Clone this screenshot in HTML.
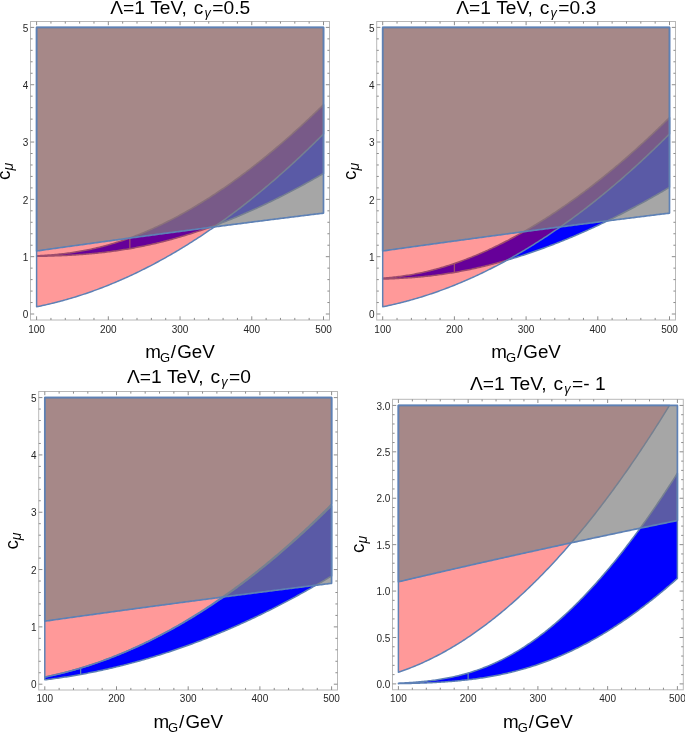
<!DOCTYPE html>
<html><head><meta charset="utf-8"><style>
html,body{margin:0;padding:0;background:#fff;}
svg{display:block;will-change:transform;}
text{font-family:"Liberation Sans",sans-serif;}
.tl text{font-size:10px;fill:#262626;}
.ti{font-size:19.2px;fill:#000;}
.ax{font-size:18.8px;fill:#000;}
.sg{font-size:12.6px;font-style:italic;}
.sG{font-size:13px;}
.sm{font-size:14px;font-style:italic;}
</style></head><body>
<svg width="685" height="732" viewBox="0 0 685 732">
<g><path d="M36.6,256.36 L38.03,256.33 L39.47,256.3 L40.9,256.27 L42.34,256.24 L43.77,256.21 L45.21,256.17 L46.64,256.13 L48.08,256.09 L49.51,256.05 L50.95,256.01 L52.38,255.97 L53.81,255.92 L55.25,255.87 L56.68,255.82 L58.12,255.76 L59.55,255.7 L60.99,255.65 L62.42,255.58 L63.86,255.52 L65.29,255.45 L66.72,255.38 L68.16,255.31 L69.59,255.23 L71.03,255.15 L72.46,255.07 L73.9,254.99 L75.33,254.9 L76.77,254.81 L78.2,254.71 L79.63,254.61 L81.07,254.51 L82.5,254.41 L83.94,254.3 L85.37,254.19 L86.81,254.07 L88.24,253.95 L89.68,253.83 L91.11,253.7 L92.55,253.57 L93.98,253.43 L95.41,253.29 L96.85,253.15 L98.28,253 L99.72,252.85 L101.15,252.7 L102.59,252.54 L104.02,252.38 L105.46,252.21 L106.89,252.03 L108.32,251.86 L109.76,251.68 L111.19,251.49 L112.63,251.3 L114.06,251.11 L115.5,250.91 L116.93,250.7 L118.37,250.49 L119.8,250.28 L121.24,250.06 L122.67,249.84 L124.1,249.61 L125.54,249.38 L126.97,249.15 L128.41,248.91 L129.84,248.66 L131.28,248.41 L132.71,248.15 L134.15,247.89 L135.58,247.63 L137.01,247.36 L138.45,247.08 L139.88,246.8 L141.32,246.52 L142.75,246.23 L144.19,245.93 L145.62,245.63 L147.06,245.33 L148.49,245.02 L149.93,244.7 L151.36,244.39 L152.79,244.06 L154.23,243.73 L155.66,243.4 L157.1,243.06 L158.53,242.72 L159.97,242.37 L161.4,242.02 L162.84,241.66 L164.27,241.29 L165.7,240.93 L167.14,240.55 L168.57,240.18 L170.01,239.79 L171.44,239.41 L172.88,239.01 L174.31,238.62 L175.75,238.22 L177.18,237.81 L178.62,237.4 L180.05,236.98 L181.48,236.56 L182.92,236.14 L184.35,235.71 L185.79,235.27 L187.22,234.83 L188.66,234.39 L190.09,233.94 L191.53,233.49 L192.96,233.03 L194.39,232.56 L195.83,232.1 L197.26,231.63 L198.7,231.15 L200.13,230.67 L201.57,230.18 L203,229.69 L204.44,229.2 L205.87,228.7 L207.31,228.19 L208.74,227.68 L210.17,227.17 L211.61,226.65 L213.04,226.13 L214.48,225.61 L215.91,225.08 L217.35,224.54 L218.78,224 L220.22,223.46 L221.65,222.91 L223.08,222.36 L224.52,221.8 L225.95,221.24 L227.39,220.67 L228.82,220.1 L230.26,219.53 L231.69,218.95 L233.13,218.36 L234.56,217.78 L236,217.19 L237.43,216.59 L238.86,215.99 L240.3,215.39 L241.73,214.78 L243.17,214.16 L244.6,213.55 L246.04,212.93 L247.47,212.3 L248.91,211.67 L250.34,211.04 L251.77,210.4 L253.21,209.76 L254.64,209.11 L256.08,208.46 L257.51,207.81 L258.95,207.15 L260.38,206.49 L261.82,205.82 L263.25,205.15 L264.69,204.48 L266.12,203.8 L267.55,203.11 L268.99,202.43 L270.42,201.74 L271.86,201.04 L273.29,200.34 L274.73,199.64 L276.16,198.93 L277.6,198.22 L279.03,197.51 L280.46,196.79 L281.9,196.07 L283.33,195.34 L284.77,194.61 L286.2,193.88 L287.64,193.14 L289.07,192.4 L290.51,191.65 L291.94,190.9 L293.38,190.14 L294.81,189.39 L296.24,188.62 L297.68,187.86 L299.11,187.09 L300.55,186.32 L301.98,185.54 L303.42,184.76 L304.85,183.97 L306.29,183.18 L307.72,182.39 L309.15,181.59 L310.59,180.79 L312.02,179.99 L313.46,179.18 L314.89,178.37 L316.33,177.55 L317.76,176.73 L319.2,175.91 L320.63,175.08 L322.07,174.25 L323.5,173.42 L323.5,104.64 L322.07,106.05 L320.63,107.45 L319.2,108.85 L317.76,110.23 L316.33,111.62 L314.89,112.99 L313.46,114.36 L312.02,115.73 L310.59,117.09 L309.15,118.44 L307.72,119.79 L306.29,121.13 L304.85,122.46 L303.42,123.79 L301.98,125.11 L300.55,126.43 L299.11,127.74 L297.68,129.05 L296.24,130.35 L294.81,131.64 L293.38,132.93 L291.94,134.21 L290.51,135.48 L289.07,136.75 L287.64,138.01 L286.2,139.27 L284.77,140.52 L283.33,141.77 L281.9,143.01 L280.46,144.24 L279.03,145.47 L277.6,146.69 L276.16,147.9 L274.73,149.11 L273.29,150.31 L271.86,151.51 L270.42,152.7 L268.99,153.88 L267.55,155.06 L266.12,156.23 L264.69,157.4 L263.25,158.56 L261.82,159.71 L260.38,160.86 L258.95,162 L257.51,163.14 L256.08,164.27 L254.64,165.39 L253.21,166.51 L251.77,167.62 L250.34,168.72 L248.91,169.82 L247.47,170.91 L246.04,172 L244.6,173.08 L243.17,174.15 L241.73,175.22 L240.3,176.28 L238.86,177.33 L237.43,178.38 L236,179.42 L234.56,180.46 L233.13,181.49 L231.69,182.51 L230.26,183.53 L228.82,184.54 L227.39,185.54 L225.95,186.54 L224.52,187.53 L223.08,188.51 L221.65,189.49 L220.22,190.46 L218.78,191.43 L217.35,192.39 L215.91,193.34 L214.48,194.29 L213.04,195.23 L211.61,196.16 L210.17,197.09 L208.74,198.01 L207.31,198.92 L205.87,199.83 L204.44,200.73 L203,201.62 L201.57,202.51 L200.13,203.39 L198.7,204.26 L197.26,205.13 L195.83,205.99 L194.39,206.84 L192.96,207.69 L191.53,208.53 L190.09,209.37 L188.66,210.19 L187.22,211.01 L185.79,211.83 L184.35,212.63 L182.92,213.43 L181.48,214.22 L180.05,215.01 L178.62,215.79 L177.18,216.56 L175.75,217.32 L174.31,218.08 L172.88,218.83 L171.44,219.57 L170.01,220.31 L168.57,221.04 L167.14,221.76 L165.7,222.48 L164.27,223.19 L162.84,223.89 L161.4,224.58 L159.97,225.27 L158.53,225.94 L157.1,226.62 L155.66,227.28 L154.23,227.94 L152.79,228.59 L151.36,229.23 L149.93,229.86 L148.49,230.49 L147.06,231.11 L145.62,231.72 L144.19,232.32 L142.75,232.92 L141.32,233.51 L139.88,234.09 L138.45,234.66 L137.01,235.23 L135.58,235.79 L134.15,236.34 L132.71,236.88 L131.28,237.42 L129.84,237.94 L128.41,238.46 L126.97,238.97 L125.54,239.48 L124.1,239.97 L122.67,240.46 L121.24,240.94 L119.8,241.41 L118.37,241.87 L116.93,242.33 L115.5,242.77 L114.06,243.21 L112.63,243.64 L111.19,244.07 L109.76,244.48 L108.32,244.89 L106.89,245.29 L105.46,245.68 L104.02,246.06 L102.59,246.44 L101.15,246.8 L99.72,247.16 L98.28,247.51 L96.85,247.85 L95.41,248.19 L93.98,248.52 L92.55,248.83 L91.11,249.15 L89.68,249.45 L88.24,249.74 L86.81,250.03 L85.37,250.31 L83.94,250.58 L82.5,250.85 L81.07,251.1 L79.63,251.35 L78.2,251.59 L76.77,251.83 L75.33,252.06 L73.9,252.28 L72.46,252.49 L71.03,252.69 L69.59,252.89 L68.16,253.09 L66.72,253.27 L65.29,253.45 L63.86,253.62 L62.42,253.79 L60.99,253.95 L59.55,254.1 L58.12,254.25 L56.68,254.39 L55.25,254.52 L53.81,254.65 L52.38,254.78 L50.95,254.89 L49.51,255.01 L48.08,255.11 L46.64,255.22 L45.21,255.31 L43.77,255.41 L42.34,255.5 L40.9,255.58 L39.47,255.66 L38.03,255.73 L36.6,255.8 Z" fill="#0000ff" stroke="#5e81b5" stroke-width="1.5" stroke-linejoin="round"/>
<path d="M129.84,248.66V237.94" stroke="#5e81b5" stroke-width="1.3"/>
<path d="M36.6,306.8 L38.03,306.51 L39.47,306.21 L40.9,305.91 L42.34,305.6 L43.77,305.28 L45.21,304.96 L46.64,304.64 L48.08,304.31 L49.51,303.97 L50.95,303.63 L52.38,303.28 L53.81,302.92 L55.25,302.56 L56.68,302.2 L58.12,301.83 L59.55,301.45 L60.99,301.07 L62.42,300.68 L63.86,300.28 L65.29,299.88 L66.72,299.48 L68.16,299.06 L69.59,298.65 L71.03,298.22 L72.46,297.79 L73.9,297.36 L75.33,296.92 L76.77,296.47 L78.2,296.02 L79.63,295.56 L81.07,295.1 L82.5,294.63 L83.94,294.15 L85.37,293.67 L86.81,293.18 L88.24,292.69 L89.68,292.19 L91.11,291.69 L92.55,291.18 L93.98,290.66 L95.41,290.14 L96.85,289.61 L98.28,289.08 L99.72,288.54 L101.15,288 L102.59,287.45 L104.02,286.89 L105.46,286.33 L106.89,285.76 L108.32,285.19 L109.76,284.61 L111.19,284.02 L112.63,283.43 L114.06,282.84 L115.5,282.23 L116.93,281.63 L118.37,281.01 L119.8,280.39 L121.24,279.77 L122.67,279.14 L124.1,278.5 L125.54,277.86 L126.97,277.21 L128.41,276.56 L129.84,275.9 L131.28,275.23 L132.71,274.56 L134.15,273.88 L135.58,273.2 L137.01,272.51 L138.45,271.82 L139.88,271.12 L141.32,270.41 L142.75,269.7 L144.19,268.98 L145.62,268.26 L147.06,267.53 L148.49,266.79 L149.93,266.05 L151.36,265.31 L152.79,264.56 L154.23,263.8 L155.66,263.03 L157.1,262.26 L158.53,261.49 L159.97,260.71 L161.4,259.92 L162.84,259.13 L164.27,258.33 L165.7,257.53 L167.14,256.72 L168.57,255.9 L170.01,255.08 L171.44,254.26 L172.88,253.42 L174.31,252.58 L175.75,251.74 L177.18,250.89 L178.62,250.03 L180.05,249.17 L181.48,248.31 L182.92,247.43 L184.35,246.55 L185.79,245.67 L187.22,244.78 L188.66,243.88 L190.09,242.98 L191.53,242.07 L192.96,241.16 L194.39,240.24 L195.83,239.32 L197.26,238.39 L198.7,237.45 L200.13,236.51 L201.57,235.56 L203,234.61 L204.44,233.65 L205.87,232.68 L207.31,231.71 L208.74,230.73 L210.17,229.75 L211.61,228.76 L213.04,227.77 L214.48,226.77 L215.91,225.76 L217.35,224.75 L218.78,223.73 L220.22,222.71 L221.65,221.68 L223.08,220.65 L224.52,219.61 L225.95,218.56 L227.39,217.51 L228.82,216.45 L230.26,215.39 L231.69,214.32 L233.13,213.25 L234.56,212.17 L236,211.08 L237.43,209.99 L238.86,208.89 L240.3,207.79 L241.73,206.68 L243.17,205.56 L244.6,204.44 L246.04,203.32 L247.47,202.18 L248.91,201.04 L250.34,199.9 L251.77,198.75 L253.21,197.6 L254.64,196.43 L256.08,195.27 L257.51,194.1 L258.95,192.92 L260.38,191.73 L261.82,190.54 L263.25,189.35 L264.69,188.15 L266.12,186.94 L267.55,185.73 L268.99,184.51 L270.42,183.28 L271.86,182.05 L273.29,180.82 L274.73,179.57 L276.16,178.33 L277.6,177.07 L279.03,175.81 L280.46,174.55 L281.9,173.28 L283.33,172 L284.77,170.72 L286.2,169.43 L287.64,168.14 L289.07,166.84 L290.51,165.53 L291.94,164.22 L293.38,162.91 L294.81,161.58 L296.24,160.26 L297.68,158.92 L299.11,157.58 L300.55,156.24 L301.98,154.88 L303.42,153.53 L304.85,152.16 L306.29,150.8 L307.72,149.42 L309.15,148.04 L310.59,146.66 L312.02,145.26 L313.46,143.87 L314.89,142.46 L316.33,141.05 L317.76,139.64 L319.2,138.22 L320.63,136.79 L322.07,135.36 L323.5,133.92 L323.5,27.4 L36.6,27.4 Z" fill="rgba(255,0,0,0.4)" stroke="#5e81b5" stroke-width="1.5" stroke-linejoin="round"/>
<path d="M36.6,250.95 L38.03,250.75 L39.47,250.54 L40.9,250.34 L42.34,250.14 L43.77,249.94 L45.21,249.74 L46.64,249.53 L48.08,249.33 L49.51,249.13 L50.95,248.93 L52.38,248.73 L53.81,248.53 L55.25,248.33 L56.68,248.13 L58.12,247.93 L59.55,247.73 L60.99,247.53 L62.42,247.33 L63.86,247.13 L65.29,246.93 L66.72,246.73 L68.16,246.53 L69.59,246.33 L71.03,246.13 L72.46,245.93 L73.9,245.73 L75.33,245.53 L76.77,245.33 L78.2,245.13 L79.63,244.93 L81.07,244.74 L82.5,244.54 L83.94,244.34 L85.37,244.14 L86.81,243.94 L88.24,243.75 L89.68,243.55 L91.11,243.35 L92.55,243.15 L93.98,242.96 L95.41,242.76 L96.85,242.56 L98.28,242.37 L99.72,242.17 L101.15,241.97 L102.59,241.78 L104.02,241.58 L105.46,241.38 L106.89,241.19 L108.32,240.99 L109.76,240.8 L111.19,240.6 L112.63,240.4 L114.06,240.21 L115.5,240.01 L116.93,239.82 L118.37,239.62 L119.8,239.43 L121.24,239.23 L122.67,239.04 L124.1,238.85 L125.54,238.65 L126.97,238.46 L128.41,238.26 L129.84,238.07 L131.28,237.88 L132.71,237.68 L134.15,237.49 L135.58,237.3 L137.01,237.1 L138.45,236.91 L139.88,236.72 L141.32,236.52 L142.75,236.33 L144.19,236.14 L145.62,235.95 L147.06,235.75 L148.49,235.56 L149.93,235.37 L151.36,235.18 L152.79,234.99 L154.23,234.79 L155.66,234.6 L157.1,234.41 L158.53,234.22 L159.97,234.03 L161.4,233.84 L162.84,233.65 L164.27,233.46 L165.7,233.27 L167.14,233.08 L168.57,232.88 L170.01,232.69 L171.44,232.5 L172.88,232.31 L174.31,232.13 L175.75,231.94 L177.18,231.75 L178.62,231.56 L180.05,231.37 L181.48,231.18 L182.92,230.99 L184.35,230.8 L185.79,230.61 L187.22,230.42 L188.66,230.23 L190.09,230.05 L191.53,229.86 L192.96,229.67 L194.39,229.48 L195.83,229.29 L197.26,229.11 L198.7,228.92 L200.13,228.73 L201.57,228.55 L203,228.36 L204.44,228.17 L205.87,227.98 L207.31,227.8 L208.74,227.61 L210.17,227.42 L211.61,227.24 L213.04,227.05 L214.48,226.87 L215.91,226.68 L217.35,226.49 L218.78,226.31 L220.22,226.12 L221.65,225.94 L223.08,225.75 L224.52,225.57 L225.95,225.38 L227.39,225.2 L228.82,225.01 L230.26,224.83 L231.69,224.64 L233.13,224.46 L234.56,224.28 L236,224.09 L237.43,223.91 L238.86,223.72 L240.3,223.54 L241.73,223.36 L243.17,223.17 L244.6,222.99 L246.04,222.81 L247.47,222.62 L248.91,222.44 L250.34,222.26 L251.77,222.08 L253.21,221.89 L254.64,221.71 L256.08,221.53 L257.51,221.35 L258.95,221.17 L260.38,220.98 L261.82,220.8 L263.25,220.62 L264.69,220.44 L266.12,220.26 L267.55,220.08 L268.99,219.9 L270.42,219.71 L271.86,219.53 L273.29,219.35 L274.73,219.17 L276.16,218.99 L277.6,218.81 L279.03,218.63 L280.46,218.45 L281.9,218.27 L283.33,218.09 L284.77,217.91 L286.2,217.73 L287.64,217.55 L289.07,217.38 L290.51,217.2 L291.94,217.02 L293.38,216.84 L294.81,216.66 L296.24,216.48 L297.68,216.3 L299.11,216.13 L300.55,215.95 L301.98,215.77 L303.42,215.59 L304.85,215.41 L306.29,215.24 L307.72,215.06 L309.15,214.88 L310.59,214.7 L312.02,214.53 L313.46,214.35 L314.89,214.17 L316.33,214 L317.76,213.82 L319.2,213.64 L320.63,213.47 L322.07,213.29 L323.5,213.12 L323.5,27.4 L36.6,27.4 Z" fill="rgba(128,128,128,0.7)" stroke="#5e81b5" stroke-width="1.7" stroke-linejoin="round"/></g>
<g><path d="M382.7,279.07 L384.13,279.03 L385.57,278.98 L387,278.93 L388.44,278.88 L389.87,278.83 L391.3,278.77 L392.74,278.71 L394.17,278.65 L395.61,278.58 L397.04,278.51 L398.47,278.44 L399.91,278.37 L401.34,278.29 L402.78,278.2 L404.21,278.12 L405.64,278.03 L407.08,277.93 L408.51,277.84 L409.95,277.74 L411.38,277.63 L412.81,277.52 L414.25,277.41 L415.68,277.29 L417.12,277.17 L418.55,277.04 L419.98,276.91 L421.42,276.78 L422.85,276.64 L424.29,276.5 L425.72,276.35 L427.15,276.2 L428.59,276.04 L430.02,275.88 L431.46,275.71 L432.89,275.54 L434.32,275.37 L435.76,275.19 L437.19,275 L438.63,274.81 L440.06,274.62 L441.49,274.42 L442.93,274.21 L444.36,274 L445.8,273.79 L447.23,273.57 L448.66,273.35 L450.1,273.12 L451.53,272.89 L452.97,272.65 L454.4,272.4 L455.83,272.16 L457.27,271.9 L458.7,271.65 L460.14,271.38 L461.57,271.11 L463,270.84 L464.44,270.56 L465.87,270.28 L467.31,270 L468.74,269.7 L470.17,269.41 L471.61,269.11 L473.04,268.8 L474.48,268.49 L475.91,268.17 L477.34,267.85 L478.78,267.53 L480.21,267.2 L481.65,266.86 L483.08,266.52 L484.51,266.18 L485.95,265.83 L487.38,265.47 L488.82,265.12 L490.25,264.75 L491.68,264.39 L493.12,264.01 L494.55,263.64 L495.99,263.26 L497.42,262.87 L498.85,262.48 L500.29,262.08 L501.72,261.69 L503.16,261.28 L504.59,260.87 L506.02,260.46 L507.46,260.04 L508.89,259.62 L510.33,259.2 L511.76,258.77 L513.19,258.33 L514.63,257.89 L516.06,257.45 L517.5,257 L518.93,256.55 L520.36,256.09 L521.8,255.63 L523.23,255.17 L524.67,254.7 L526.1,254.23 L527.53,253.75 L528.97,253.27 L530.4,252.78 L531.84,252.29 L533.27,251.8 L534.7,251.3 L536.14,250.8 L537.57,250.29 L539.01,249.78 L540.44,249.27 L541.87,248.75 L543.31,248.23 L544.74,247.7 L546.18,247.17 L547.61,246.64 L549.04,246.1 L550.48,245.56 L551.91,245.01 L553.35,244.46 L554.78,243.9 L556.21,243.34 L557.65,242.78 L559.08,242.22 L560.52,241.65 L561.95,241.07 L563.38,240.49 L564.82,239.91 L566.25,239.32 L567.69,238.73 L569.12,238.14 L570.55,237.54 L571.99,236.94 L573.42,236.34 L574.86,235.73 L576.29,235.11 L577.72,234.5 L579.16,233.88 L580.59,233.25 L582.03,232.62 L583.46,231.99 L584.89,231.35 L586.33,230.71 L587.76,230.07 L589.2,229.42 L590.63,228.77 L592.06,228.12 L593.5,227.46 L594.93,226.79 L596.37,226.13 L597.8,225.46 L599.23,224.78 L600.67,224.11 L602.1,223.43 L603.54,222.74 L604.97,222.05 L606.4,221.36 L607.84,220.66 L609.27,219.96 L610.71,219.26 L612.14,218.55 L613.57,217.84 L615.01,217.13 L616.44,216.41 L617.88,215.68 L619.31,214.96 L620.74,214.23 L622.18,213.5 L623.61,212.76 L625.05,212.02 L626.48,211.27 L627.91,210.53 L629.35,209.77 L630.78,209.02 L632.22,208.26 L633.65,207.5 L635.08,206.73 L636.52,205.96 L637.95,205.19 L639.39,204.41 L640.82,203.63 L642.25,202.85 L643.69,202.06 L645.12,201.27 L646.56,200.47 L647.99,199.67 L649.42,198.87 L650.86,198.06 L652.29,197.25 L653.73,196.44 L655.16,195.62 L656.59,194.8 L658.03,193.98 L659.46,193.15 L660.9,192.32 L662.33,191.48 L663.76,190.64 L665.2,189.8 L666.63,188.96 L668.07,188.11 L669.5,187.25 L669.5,117.57 L668.07,118.99 L666.63,120.4 L665.2,121.8 L663.76,123.21 L662.33,124.6 L660.9,125.99 L659.46,127.37 L658.03,128.75 L656.59,130.12 L655.16,131.49 L653.73,132.85 L652.29,134.2 L650.86,135.55 L649.42,136.89 L647.99,138.23 L646.56,139.56 L645.12,140.88 L643.69,142.2 L642.25,143.52 L640.82,144.82 L639.39,146.12 L637.95,147.42 L636.52,148.71 L635.08,150 L633.65,151.27 L632.22,152.55 L630.78,153.81 L629.35,155.07 L627.91,156.33 L626.48,157.58 L625.05,158.82 L623.61,160.06 L622.18,161.29 L620.74,162.52 L619.31,163.74 L617.88,164.95 L616.44,166.16 L615.01,167.36 L613.57,168.56 L612.14,169.75 L610.71,170.93 L609.27,172.11 L607.84,173.29 L606.4,174.45 L604.97,175.62 L603.54,176.77 L602.1,177.92 L600.67,179.06 L599.23,180.2 L597.8,181.33 L596.37,182.46 L594.93,183.58 L593.5,184.7 L592.06,185.8 L590.63,186.91 L589.2,188 L587.76,189.09 L586.33,190.18 L584.89,191.26 L583.46,192.33 L582.03,193.4 L580.59,194.46 L579.16,195.51 L577.72,196.56 L576.29,197.61 L574.86,198.64 L573.42,199.67 L571.99,200.7 L570.55,201.72 L569.12,202.73 L567.69,203.74 L566.25,204.74 L564.82,205.74 L563.38,206.73 L561.95,207.71 L560.52,208.69 L559.08,209.66 L557.65,210.62 L556.21,211.58 L554.78,212.53 L553.35,213.48 L551.91,214.42 L550.48,215.36 L549.04,216.29 L547.61,217.21 L546.18,218.13 L544.74,219.04 L543.31,219.94 L541.87,220.84 L540.44,221.73 L539.01,222.62 L537.57,223.5 L536.14,224.37 L534.7,225.24 L533.27,226.1 L531.84,226.96 L530.4,227.81 L528.97,228.65 L527.53,229.48 L526.1,230.31 L524.67,231.14 L523.23,231.96 L521.8,232.77 L520.36,233.57 L518.93,234.37 L517.5,235.17 L516.06,235.95 L514.63,236.73 L513.19,237.5 L511.76,238.27 L510.33,239.03 L508.89,239.79 L507.46,240.54 L506.02,241.28 L504.59,242.01 L503.16,242.74 L501.72,243.46 L500.29,244.18 L498.85,244.89 L497.42,245.59 L495.99,246.28 L494.55,246.97 L493.12,247.66 L491.68,248.33 L490.25,249 L488.82,249.66 L487.38,250.32 L485.95,250.97 L484.51,251.61 L483.08,252.25 L481.65,252.88 L480.21,253.5 L478.78,254.11 L477.34,254.72 L475.91,255.32 L474.48,255.91 L473.04,256.5 L471.61,257.08 L470.17,257.65 L468.74,258.22 L467.31,258.78 L465.87,259.33 L464.44,259.87 L463,260.41 L461.57,260.94 L460.14,261.46 L458.7,261.98 L457.27,262.49 L455.83,262.99 L454.4,263.48 L452.97,263.96 L451.53,264.44 L450.1,264.91 L448.66,265.38 L447.23,265.83 L445.8,266.28 L444.36,266.72 L442.93,267.15 L441.49,267.57 L440.06,267.99 L438.63,268.4 L437.19,268.8 L435.76,269.19 L434.32,269.57 L432.89,269.95 L431.46,270.32 L430.02,270.68 L428.59,271.03 L427.15,271.38 L425.72,271.71 L424.29,272.04 L422.85,272.36 L421.42,272.68 L419.98,272.98 L418.55,273.28 L417.12,273.57 L415.68,273.85 L414.25,274.12 L412.81,274.38 L411.38,274.64 L409.95,274.89 L408.51,275.13 L407.08,275.36 L405.64,275.58 L404.21,275.8 L402.78,276.01 L401.34,276.21 L399.91,276.41 L398.47,276.59 L397.04,276.77 L395.61,276.94 L394.17,277.11 L392.74,277.27 L391.3,277.42 L389.87,277.56 L388.44,277.7 L387,277.83 L385.57,277.96 L384.13,278.07 L382.7,278.19 Z" fill="#0000ff" stroke="#5e81b5" stroke-width="1.5" stroke-linejoin="round"/>
<path d="M454.4,272.4V263.48" stroke="#5e81b5" stroke-width="1.3"/>
<path d="M382.7,306.8 L384.13,306.51 L385.57,306.21 L387,305.91 L388.44,305.6 L389.87,305.28 L391.3,304.96 L392.74,304.64 L394.17,304.31 L395.61,303.97 L397.04,303.63 L398.47,303.28 L399.91,302.92 L401.34,302.56 L402.78,302.2 L404.21,301.83 L405.64,301.45 L407.08,301.07 L408.51,300.68 L409.95,300.28 L411.38,299.88 L412.81,299.48 L414.25,299.06 L415.68,298.65 L417.12,298.22 L418.55,297.79 L419.98,297.36 L421.42,296.92 L422.85,296.47 L424.29,296.02 L425.72,295.56 L427.15,295.1 L428.59,294.63 L430.02,294.15 L431.46,293.67 L432.89,293.18 L434.32,292.69 L435.76,292.19 L437.19,291.69 L438.63,291.18 L440.06,290.66 L441.49,290.14 L442.93,289.61 L444.36,289.08 L445.8,288.54 L447.23,288 L448.66,287.45 L450.1,286.89 L451.53,286.33 L452.97,285.76 L454.4,285.19 L455.83,284.61 L457.27,284.02 L458.7,283.43 L460.14,282.84 L461.57,282.23 L463,281.63 L464.44,281.01 L465.87,280.39 L467.31,279.77 L468.74,279.14 L470.17,278.5 L471.61,277.86 L473.04,277.21 L474.48,276.56 L475.91,275.9 L477.34,275.23 L478.78,274.56 L480.21,273.88 L481.65,273.2 L483.08,272.51 L484.51,271.82 L485.95,271.12 L487.38,270.41 L488.82,269.7 L490.25,268.98 L491.68,268.26 L493.12,267.53 L494.55,266.79 L495.99,266.05 L497.42,265.31 L498.85,264.56 L500.29,263.8 L501.72,263.03 L503.16,262.26 L504.59,261.49 L506.02,260.71 L507.46,259.92 L508.89,259.13 L510.33,258.33 L511.76,257.53 L513.19,256.72 L514.63,255.9 L516.06,255.08 L517.5,254.26 L518.93,253.42 L520.36,252.58 L521.8,251.74 L523.23,250.89 L524.67,250.03 L526.1,249.17 L527.53,248.31 L528.97,247.43 L530.4,246.55 L531.84,245.67 L533.27,244.78 L534.7,243.88 L536.14,242.98 L537.57,242.07 L539.01,241.16 L540.44,240.24 L541.87,239.32 L543.31,238.39 L544.74,237.45 L546.18,236.51 L547.61,235.56 L549.04,234.61 L550.48,233.65 L551.91,232.68 L553.35,231.71 L554.78,230.73 L556.21,229.75 L557.65,228.76 L559.08,227.77 L560.52,226.77 L561.95,225.76 L563.38,224.75 L564.82,223.73 L566.25,222.71 L567.69,221.68 L569.12,220.65 L570.55,219.61 L571.99,218.56 L573.42,217.51 L574.86,216.45 L576.29,215.39 L577.72,214.32 L579.16,213.25 L580.59,212.17 L582.03,211.08 L583.46,209.99 L584.89,208.89 L586.33,207.79 L587.76,206.68 L589.2,205.56 L590.63,204.44 L592.06,203.32 L593.5,202.18 L594.93,201.04 L596.37,199.9 L597.8,198.75 L599.23,197.6 L600.67,196.43 L602.1,195.27 L603.54,194.1 L604.97,192.92 L606.4,191.73 L607.84,190.54 L609.27,189.35 L610.71,188.15 L612.14,186.94 L613.57,185.73 L615.01,184.51 L616.44,183.28 L617.88,182.05 L619.31,180.82 L620.74,179.57 L622.18,178.33 L623.61,177.07 L625.05,175.81 L626.48,174.55 L627.91,173.28 L629.35,172 L630.78,170.72 L632.22,169.43 L633.65,168.14 L635.08,166.84 L636.52,165.53 L637.95,164.22 L639.39,162.91 L640.82,161.58 L642.25,160.26 L643.69,158.92 L645.12,157.58 L646.56,156.24 L647.99,154.88 L649.42,153.53 L650.86,152.16 L652.29,150.8 L653.73,149.42 L655.16,148.04 L656.59,146.66 L658.03,145.26 L659.46,143.87 L660.9,142.46 L662.33,141.05 L663.76,139.64 L665.2,138.22 L666.63,136.79 L668.07,135.36 L669.5,133.92 L669.5,27.4 L382.7,27.4 Z" fill="rgba(255,0,0,0.4)" stroke="#5e81b5" stroke-width="1.5" stroke-linejoin="round"/>
<path d="M382.7,250.95 L384.13,250.75 L385.57,250.54 L387,250.34 L388.44,250.14 L389.87,249.94 L391.3,249.74 L392.74,249.53 L394.17,249.33 L395.61,249.13 L397.04,248.93 L398.47,248.73 L399.91,248.53 L401.34,248.33 L402.78,248.13 L404.21,247.93 L405.64,247.73 L407.08,247.53 L408.51,247.33 L409.95,247.13 L411.38,246.93 L412.81,246.73 L414.25,246.53 L415.68,246.33 L417.12,246.13 L418.55,245.93 L419.98,245.73 L421.42,245.53 L422.85,245.33 L424.29,245.13 L425.72,244.93 L427.15,244.74 L428.59,244.54 L430.02,244.34 L431.46,244.14 L432.89,243.94 L434.32,243.75 L435.76,243.55 L437.19,243.35 L438.63,243.15 L440.06,242.96 L441.49,242.76 L442.93,242.56 L444.36,242.37 L445.8,242.17 L447.23,241.97 L448.66,241.78 L450.1,241.58 L451.53,241.38 L452.97,241.19 L454.4,240.99 L455.83,240.8 L457.27,240.6 L458.7,240.4 L460.14,240.21 L461.57,240.01 L463,239.82 L464.44,239.62 L465.87,239.43 L467.31,239.23 L468.74,239.04 L470.17,238.85 L471.61,238.65 L473.04,238.46 L474.48,238.26 L475.91,238.07 L477.34,237.88 L478.78,237.68 L480.21,237.49 L481.65,237.3 L483.08,237.1 L484.51,236.91 L485.95,236.72 L487.38,236.52 L488.82,236.33 L490.25,236.14 L491.68,235.95 L493.12,235.75 L494.55,235.56 L495.99,235.37 L497.42,235.18 L498.85,234.99 L500.29,234.79 L501.72,234.6 L503.16,234.41 L504.59,234.22 L506.02,234.03 L507.46,233.84 L508.89,233.65 L510.33,233.46 L511.76,233.27 L513.19,233.08 L514.63,232.88 L516.06,232.69 L517.5,232.5 L518.93,232.31 L520.36,232.13 L521.8,231.94 L523.23,231.75 L524.67,231.56 L526.1,231.37 L527.53,231.18 L528.97,230.99 L530.4,230.8 L531.84,230.61 L533.27,230.42 L534.7,230.23 L536.14,230.05 L537.57,229.86 L539.01,229.67 L540.44,229.48 L541.87,229.29 L543.31,229.11 L544.74,228.92 L546.18,228.73 L547.61,228.55 L549.04,228.36 L550.48,228.17 L551.91,227.98 L553.35,227.8 L554.78,227.61 L556.21,227.42 L557.65,227.24 L559.08,227.05 L560.52,226.87 L561.95,226.68 L563.38,226.49 L564.82,226.31 L566.25,226.12 L567.69,225.94 L569.12,225.75 L570.55,225.57 L571.99,225.38 L573.42,225.2 L574.86,225.01 L576.29,224.83 L577.72,224.64 L579.16,224.46 L580.59,224.28 L582.03,224.09 L583.46,223.91 L584.89,223.72 L586.33,223.54 L587.76,223.36 L589.2,223.17 L590.63,222.99 L592.06,222.81 L593.5,222.62 L594.93,222.44 L596.37,222.26 L597.8,222.08 L599.23,221.89 L600.67,221.71 L602.1,221.53 L603.54,221.35 L604.97,221.17 L606.4,220.98 L607.84,220.8 L609.27,220.62 L610.71,220.44 L612.14,220.26 L613.57,220.08 L615.01,219.9 L616.44,219.71 L617.88,219.53 L619.31,219.35 L620.74,219.17 L622.18,218.99 L623.61,218.81 L625.05,218.63 L626.48,218.45 L627.91,218.27 L629.35,218.09 L630.78,217.91 L632.22,217.73 L633.65,217.55 L635.08,217.38 L636.52,217.2 L637.95,217.02 L639.39,216.84 L640.82,216.66 L642.25,216.48 L643.69,216.3 L645.12,216.13 L646.56,215.95 L647.99,215.77 L649.42,215.59 L650.86,215.41 L652.29,215.24 L653.73,215.06 L655.16,214.88 L656.59,214.7 L658.03,214.53 L659.46,214.35 L660.9,214.17 L662.33,214 L663.76,213.82 L665.2,213.64 L666.63,213.47 L668.07,213.29 L669.5,213.12 L669.5,27.4 L382.7,27.4 Z" fill="rgba(128,128,128,0.7)" stroke="#5e81b5" stroke-width="1.7" stroke-linejoin="round"/></g>
<g><path d="M44.8,679.87 L46.23,679.7 L47.67,679.52 L49.1,679.34 L50.54,679.15 L51.97,678.96 L53.4,678.77 L54.84,678.58 L56.27,678.38 L57.71,678.17 L59.14,677.97 L60.57,677.76 L62.01,677.55 L63.44,677.33 L64.88,677.11 L66.31,676.89 L67.74,676.66 L69.18,676.43 L70.61,676.2 L72.05,675.96 L73.48,675.72 L74.91,675.47 L76.35,675.23 L77.78,674.98 L79.22,674.72 L80.65,674.46 L82.08,674.2 L83.52,673.94 L84.95,673.67 L86.39,673.4 L87.82,673.12 L89.25,672.84 L90.69,672.56 L92.12,672.27 L93.56,671.99 L94.99,671.69 L96.42,671.4 L97.86,671.1 L99.29,670.79 L100.73,670.49 L102.16,670.18 L103.59,669.87 L105.03,669.55 L106.46,669.23 L107.9,668.9 L109.33,668.58 L110.76,668.25 L112.2,667.91 L113.63,667.57 L115.07,667.23 L116.5,666.89 L117.93,666.54 L119.37,666.19 L120.8,665.84 L122.24,665.48 L123.67,665.12 L125.1,664.75 L126.54,664.38 L127.97,664.01 L129.41,663.63 L130.84,663.25 L132.27,662.87 L133.71,662.49 L135.14,662.1 L136.58,661.7 L138.01,661.31 L139.44,660.91 L140.88,660.5 L142.31,660.1 L143.75,659.69 L145.18,659.27 L146.61,658.86 L148.05,658.43 L149.48,658.01 L150.92,657.58 L152.35,657.15 L153.78,656.72 L155.22,656.28 L156.65,655.84 L158.09,655.39 L159.52,654.95 L160.95,654.49 L162.39,654.04 L163.82,653.58 L165.26,653.12 L166.69,652.65 L168.12,652.18 L169.56,651.71 L170.99,651.23 L172.43,650.75 L173.86,650.27 L175.29,649.78 L176.73,649.29 L178.16,648.8 L179.6,648.3 L181.03,647.8 L182.46,647.3 L183.9,646.79 L185.33,646.28 L186.77,645.77 L188.2,645.25 L189.63,644.73 L191.07,644.21 L192.5,643.68 L193.94,643.15 L195.37,642.61 L196.8,642.07 L198.24,641.53 L199.67,640.99 L201.11,640.44 L202.54,639.88 L203.97,639.33 L205.41,638.77 L206.84,638.21 L208.28,637.64 L209.71,637.07 L211.14,636.5 L212.58,635.92 L214.01,635.34 L215.45,634.76 L216.88,634.17 L218.31,633.58 L219.75,632.99 L221.18,632.39 L222.62,631.79 L224.05,631.19 L225.48,630.58 L226.92,629.97 L228.35,629.35 L229.79,628.73 L231.22,628.11 L232.65,627.49 L234.09,626.86 L235.52,626.23 L236.96,625.59 L238.39,624.95 L239.82,624.31 L241.26,623.67 L242.69,623.02 L244.13,622.36 L245.56,621.71 L246.99,621.05 L248.43,620.39 L249.86,619.72 L251.3,619.05 L252.73,618.38 L254.16,617.7 L255.6,617.02 L257.03,616.34 L258.47,615.65 L259.9,614.96 L261.33,614.26 L262.77,613.57 L264.2,612.86 L265.64,612.16 L267.07,611.45 L268.5,610.74 L269.94,610.03 L271.37,609.31 L272.81,608.59 L274.24,607.86 L275.67,607.13 L277.11,606.4 L278.54,605.66 L279.98,604.92 L281.41,604.18 L282.84,603.44 L284.28,602.69 L285.71,601.93 L287.15,601.18 L288.58,600.42 L290.01,599.65 L291.45,598.89 L292.88,598.12 L294.32,597.34 L295.75,596.56 L297.18,595.78 L298.62,595 L300.05,594.21 L301.49,593.42 L302.92,592.63 L304.35,591.83 L305.79,591.03 L307.22,590.22 L308.66,589.41 L310.09,588.6 L311.52,587.79 L312.96,586.97 L314.39,586.15 L315.83,585.32 L317.26,584.49 L318.69,583.66 L320.13,582.82 L321.56,581.98 L323,581.14 L324.43,580.29 L325.86,579.44 L327.3,578.59 L328.73,577.73 L330.17,576.87 L331.6,576.01 L331.6,505.79 L330.17,507.22 L328.73,508.63 L327.3,510.05 L325.86,511.45 L324.43,512.86 L323,514.25 L321.56,515.64 L320.13,517.03 L318.69,518.41 L317.26,519.78 L315.83,521.15 L314.39,522.51 L312.96,523.86 L311.52,525.21 L310.09,526.56 L308.66,527.9 L307.22,529.23 L305.79,530.56 L304.35,531.88 L302.92,533.2 L301.49,534.51 L300.05,535.81 L298.62,537.11 L297.18,538.4 L295.75,539.69 L294.32,540.97 L292.88,542.25 L291.45,543.52 L290.01,544.78 L288.58,546.04 L287.15,547.29 L285.71,548.54 L284.28,549.78 L282.84,551.02 L281.41,552.25 L279.98,553.47 L278.54,554.69 L277.11,555.91 L275.67,557.11 L274.24,558.31 L272.81,559.51 L271.37,560.7 L269.94,561.89 L268.5,563.06 L267.07,564.24 L265.64,565.41 L264.2,566.57 L262.77,567.72 L261.33,568.87 L259.9,570.02 L258.47,571.16 L257.03,572.29 L255.6,573.42 L254.16,574.54 L252.73,575.66 L251.3,576.77 L249.86,577.87 L248.43,578.97 L246.99,580.06 L245.56,581.15 L244.13,582.23 L242.69,583.31 L241.26,584.38 L239.82,585.44 L238.39,586.5 L236.96,587.56 L235.52,588.6 L234.09,589.65 L232.65,590.68 L231.22,591.71 L229.79,592.74 L228.35,593.76 L226.92,594.77 L225.48,595.78 L224.05,596.78 L222.62,597.78 L221.18,598.77 L219.75,599.75 L218.31,600.73 L216.88,601.7 L215.45,602.67 L214.01,603.63 L212.58,604.59 L211.14,605.54 L209.71,606.49 L208.28,607.42 L206.84,608.36 L205.41,609.29 L203.97,610.21 L202.54,611.12 L201.11,612.03 L199.67,612.94 L198.24,613.84 L196.8,614.73 L195.37,615.62 L193.94,616.5 L192.5,617.38 L191.07,618.25 L189.63,619.11 L188.2,619.97 L186.77,620.83 L185.33,621.67 L183.9,622.52 L182.46,623.35 L181.03,624.18 L179.6,625.01 L178.16,625.83 L176.73,626.64 L175.29,627.45 L173.86,628.25 L172.43,629.05 L170.99,629.84 L169.56,630.62 L168.12,631.4 L166.69,632.18 L165.26,632.94 L163.82,633.71 L162.39,634.46 L160.95,635.21 L159.52,635.96 L158.09,636.7 L156.65,637.43 L155.22,638.16 L153.78,638.88 L152.35,639.6 L150.92,640.31 L149.48,641.01 L148.05,641.71 L146.61,642.41 L145.18,643.09 L143.75,643.78 L142.31,644.45 L140.88,645.12 L139.44,645.79 L138.01,646.45 L136.58,647.1 L135.14,647.75 L133.71,648.39 L132.27,649.03 L130.84,649.66 L129.41,650.29 L127.97,650.9 L126.54,651.52 L125.1,652.13 L123.67,652.73 L122.24,653.33 L120.8,653.92 L119.37,654.5 L117.93,655.08 L116.5,655.65 L115.07,656.22 L113.63,656.79 L112.2,657.34 L110.76,657.89 L109.33,658.44 L107.9,658.98 L106.46,659.51 L105.03,660.04 L103.59,660.56 L102.16,661.08 L100.73,661.59 L99.29,662.09 L97.86,662.59 L96.42,663.09 L94.99,663.58 L93.56,664.06 L92.12,664.54 L90.69,665.01 L89.25,665.47 L87.82,665.93 L86.39,666.38 L84.95,666.83 L83.52,667.28 L82.08,667.71 L80.65,668.14 L79.22,668.57 L77.78,668.99 L76.35,669.4 L74.91,669.81 L73.48,670.21 L72.05,670.61 L70.61,671 L69.18,671.39 L67.74,671.77 L66.31,672.14 L64.88,672.51 L63.44,672.87 L62.01,673.23 L60.57,673.58 L59.14,673.92 L57.71,674.26 L56.27,674.6 L54.84,674.93 L53.4,675.25 L51.97,675.57 L50.54,675.88 L49.1,676.18 L47.67,676.48 L46.23,676.78 L44.8,677.06 Z" fill="#0000ff" stroke="#5e81b5" stroke-width="1.5" stroke-linejoin="round"/>
<path d="M80.65,674.46V668.14" stroke="#5e81b5" stroke-width="1.3"/>
<path d="M44.8,677 L46.23,676.71 L47.67,676.41 L49.1,676.11 L50.54,675.8 L51.97,675.48 L53.4,675.16 L54.84,674.84 L56.27,674.51 L57.71,674.17 L59.14,673.83 L60.57,673.48 L62.01,673.12 L63.44,672.76 L64.88,672.4 L66.31,672.03 L67.74,671.65 L69.18,671.27 L70.61,670.88 L72.05,670.48 L73.48,670.08 L74.91,669.68 L76.35,669.26 L77.78,668.85 L79.22,668.42 L80.65,667.99 L82.08,667.56 L83.52,667.12 L84.95,666.67 L86.39,666.22 L87.82,665.76 L89.25,665.3 L90.69,664.83 L92.12,664.35 L93.56,663.87 L94.99,663.38 L96.42,662.89 L97.86,662.39 L99.29,661.89 L100.73,661.38 L102.16,660.86 L103.59,660.34 L105.03,659.81 L106.46,659.28 L107.9,658.74 L109.33,658.2 L110.76,657.65 L112.2,657.09 L113.63,656.53 L115.07,655.96 L116.5,655.39 L117.93,654.81 L119.37,654.22 L120.8,653.63 L122.24,653.04 L123.67,652.43 L125.1,651.83 L126.54,651.21 L127.97,650.59 L129.41,649.97 L130.84,649.34 L132.27,648.7 L133.71,648.06 L135.14,647.41 L136.58,646.76 L138.01,646.1 L139.44,645.43 L140.88,644.76 L142.31,644.08 L143.75,643.4 L145.18,642.71 L146.61,642.02 L148.05,641.32 L149.48,640.61 L150.92,639.9 L152.35,639.18 L153.78,638.46 L155.22,637.73 L156.65,636.99 L158.09,636.25 L159.52,635.51 L160.95,634.76 L162.39,634 L163.82,633.23 L165.26,632.46 L166.69,631.69 L168.12,630.91 L169.56,630.12 L170.99,629.33 L172.43,628.53 L173.86,627.73 L175.29,626.92 L176.73,626.1 L178.16,625.28 L179.6,624.46 L181.03,623.62 L182.46,622.78 L183.9,621.94 L185.33,621.09 L186.77,620.23 L188.2,619.37 L189.63,618.51 L191.07,617.63 L192.5,616.75 L193.94,615.87 L195.37,614.98 L196.8,614.08 L198.24,613.18 L199.67,612.27 L201.11,611.36 L202.54,610.44 L203.97,609.52 L205.41,608.59 L206.84,607.65 L208.28,606.71 L209.71,605.76 L211.14,604.81 L212.58,603.85 L214.01,602.88 L215.45,601.91 L216.88,600.93 L218.31,599.95 L219.75,598.96 L221.18,597.97 L222.62,596.97 L224.05,595.96 L225.48,594.95 L226.92,593.93 L228.35,592.91 L229.79,591.88 L231.22,590.85 L232.65,589.81 L234.09,588.76 L235.52,587.71 L236.96,586.65 L238.39,585.59 L239.82,584.52 L241.26,583.45 L242.69,582.37 L244.13,581.28 L245.56,580.19 L246.99,579.09 L248.43,577.99 L249.86,576.88 L251.3,575.76 L252.73,574.64 L254.16,573.52 L255.6,572.38 L257.03,571.24 L258.47,570.1 L259.9,568.95 L261.33,567.8 L262.77,566.63 L264.2,565.47 L265.64,564.3 L267.07,563.12 L268.5,561.93 L269.94,560.74 L271.37,559.55 L272.81,558.35 L274.24,557.14 L275.67,555.93 L277.11,554.71 L278.54,553.48 L279.98,552.25 L281.41,551.02 L282.84,549.77 L284.28,548.53 L285.71,547.27 L287.15,546.01 L288.58,544.75 L290.01,543.48 L291.45,542.2 L292.88,540.92 L294.32,539.63 L295.75,538.34 L297.18,537.04 L298.62,535.73 L300.05,534.42 L301.49,533.11 L302.92,531.78 L304.35,530.46 L305.79,529.12 L307.22,527.78 L308.66,526.44 L310.09,525.08 L311.52,523.73 L312.96,522.36 L314.39,521 L315.83,519.62 L317.26,518.24 L318.69,516.86 L320.13,515.46 L321.56,514.07 L323,512.66 L324.43,511.25 L325.86,509.84 L327.3,508.42 L328.73,506.99 L330.17,505.56 L331.6,504.12 L331.6,397.6 L44.8,397.6 Z" fill="rgba(255,0,0,0.4)" stroke="#5e81b5" stroke-width="1.5" stroke-linejoin="round"/>
<path d="M44.8,621.15 L46.23,620.95 L47.67,620.74 L49.1,620.54 L50.54,620.34 L51.97,620.14 L53.4,619.94 L54.84,619.73 L56.27,619.53 L57.71,619.33 L59.14,619.13 L60.57,618.93 L62.01,618.73 L63.44,618.53 L64.88,618.33 L66.31,618.13 L67.74,617.93 L69.18,617.73 L70.61,617.53 L72.05,617.33 L73.48,617.13 L74.91,616.93 L76.35,616.73 L77.78,616.53 L79.22,616.33 L80.65,616.13 L82.08,615.93 L83.52,615.73 L84.95,615.53 L86.39,615.33 L87.82,615.13 L89.25,614.94 L90.69,614.74 L92.12,614.54 L93.56,614.34 L94.99,614.14 L96.42,613.95 L97.86,613.75 L99.29,613.55 L100.73,613.35 L102.16,613.16 L103.59,612.96 L105.03,612.76 L106.46,612.57 L107.9,612.37 L109.33,612.17 L110.76,611.98 L112.2,611.78 L113.63,611.58 L115.07,611.39 L116.5,611.19 L117.93,611 L119.37,610.8 L120.8,610.6 L122.24,610.41 L123.67,610.21 L125.1,610.02 L126.54,609.82 L127.97,609.63 L129.41,609.43 L130.84,609.24 L132.27,609.05 L133.71,608.85 L135.14,608.66 L136.58,608.46 L138.01,608.27 L139.44,608.08 L140.88,607.88 L142.31,607.69 L143.75,607.5 L145.18,607.3 L146.61,607.11 L148.05,606.92 L149.48,606.72 L150.92,606.53 L152.35,606.34 L153.78,606.15 L155.22,605.95 L156.65,605.76 L158.09,605.57 L159.52,605.38 L160.95,605.19 L162.39,604.99 L163.82,604.8 L165.26,604.61 L166.69,604.42 L168.12,604.23 L169.56,604.04 L170.99,603.85 L172.43,603.66 L173.86,603.47 L175.29,603.28 L176.73,603.08 L178.16,602.89 L179.6,602.7 L181.03,602.51 L182.46,602.33 L183.9,602.14 L185.33,601.95 L186.77,601.76 L188.2,601.57 L189.63,601.38 L191.07,601.19 L192.5,601 L193.94,600.81 L195.37,600.62 L196.8,600.43 L198.24,600.25 L199.67,600.06 L201.11,599.87 L202.54,599.68 L203.97,599.49 L205.41,599.31 L206.84,599.12 L208.28,598.93 L209.71,598.75 L211.14,598.56 L212.58,598.37 L214.01,598.18 L215.45,598 L216.88,597.81 L218.31,597.62 L219.75,597.44 L221.18,597.25 L222.62,597.07 L224.05,596.88 L225.48,596.69 L226.92,596.51 L228.35,596.32 L229.79,596.14 L231.22,595.95 L232.65,595.77 L234.09,595.58 L235.52,595.4 L236.96,595.21 L238.39,595.03 L239.82,594.84 L241.26,594.66 L242.69,594.48 L244.13,594.29 L245.56,594.11 L246.99,593.92 L248.43,593.74 L249.86,593.56 L251.3,593.37 L252.73,593.19 L254.16,593.01 L255.6,592.82 L257.03,592.64 L258.47,592.46 L259.9,592.28 L261.33,592.09 L262.77,591.91 L264.2,591.73 L265.64,591.55 L267.07,591.37 L268.5,591.18 L269.94,591 L271.37,590.82 L272.81,590.64 L274.24,590.46 L275.67,590.28 L277.11,590.1 L278.54,589.91 L279.98,589.73 L281.41,589.55 L282.84,589.37 L284.28,589.19 L285.71,589.01 L287.15,588.83 L288.58,588.65 L290.01,588.47 L291.45,588.29 L292.88,588.11 L294.32,587.93 L295.75,587.75 L297.18,587.58 L298.62,587.4 L300.05,587.22 L301.49,587.04 L302.92,586.86 L304.35,586.68 L305.79,586.5 L307.22,586.33 L308.66,586.15 L310.09,585.97 L311.52,585.79 L312.96,585.61 L314.39,585.44 L315.83,585.26 L317.26,585.08 L318.69,584.9 L320.13,584.73 L321.56,584.55 L323,584.37 L324.43,584.2 L325.86,584.02 L327.3,583.84 L328.73,583.67 L330.17,583.49 L331.6,583.32 L331.6,397.6 L44.8,397.6 Z" fill="rgba(128,128,128,0.7)" stroke="#5e81b5" stroke-width="1.7" stroke-linejoin="round"/></g>
<g><path d="M398.4,683.64 L399.79,683.61 L401.19,683.59 L402.58,683.57 L403.98,683.54 L405.38,683.51 L406.77,683.48 L408.16,683.45 L409.56,683.42 L410.95,683.39 L412.35,683.35 L413.75,683.32 L415.14,683.28 L416.53,683.24 L417.93,683.19 L419.32,683.15 L420.72,683.1 L422.11,683.05 L423.51,683 L424.9,682.95 L426.3,682.89 L427.69,682.83 L429.09,682.77 L430.48,682.71 L431.88,682.64 L433.27,682.57 L434.67,682.5 L436.06,682.42 L437.46,682.35 L438.85,682.27 L440.25,682.18 L441.64,682.1 L443.04,682.01 L444.44,681.91 L445.83,681.82 L447.22,681.72 L448.62,681.61 L450.01,681.51 L451.41,681.4 L452.8,681.28 L454.2,681.16 L455.59,681.04 L456.99,680.92 L458.38,680.79 L459.78,680.65 L461.17,680.51 L462.57,680.37 L463.96,680.23 L465.36,680.07 L466.75,679.92 L468.15,679.76 L469.54,679.59 L470.94,679.43 L472.33,679.25 L473.73,679.07 L475.12,678.89 L476.52,678.7 L477.91,678.51 L479.31,678.31 L480.7,678.11 L482.1,677.9 L483.5,677.68 L484.89,677.46 L486.28,677.24 L487.68,677.01 L489.07,676.77 L490.47,676.53 L491.87,676.28 L493.26,676.03 L494.65,675.77 L496.05,675.5 L497.44,675.23 L498.84,674.95 L500.24,674.67 L501.63,674.38 L503.02,674.08 L504.42,673.78 L505.81,673.47 L507.21,673.16 L508.6,672.84 L510,672.51 L511.39,672.17 L512.79,671.83 L514.18,671.48 L515.58,671.13 L516.98,670.77 L518.37,670.4 L519.76,670.02 L521.16,669.64 L522.55,669.25 L523.95,668.86 L525.35,668.45 L526.74,668.04 L528.13,667.62 L529.53,667.2 L530.92,666.77 L532.32,666.33 L533.71,665.88 L535.11,665.43 L536.5,664.97 L537.9,664.5 L539.29,664.02 L540.69,663.54 L542.09,663.05 L543.48,662.55 L544.88,662.04 L546.27,661.53 L547.66,661 L549.06,660.47 L550.45,659.94 L551.85,659.39 L553.25,658.84 L554.64,658.28 L556.03,657.71 L557.43,657.14 L558.83,656.55 L560.22,655.96 L561.62,655.36 L563.01,654.75 L564.4,654.14 L565.8,653.52 L567.19,652.89 L568.59,652.25 L569.99,651.6 L571.38,650.95 L572.77,650.28 L574.17,649.61 L575.56,648.94 L576.96,648.25 L578.36,647.56 L579.75,646.85 L581.14,646.14 L582.54,645.43 L583.93,644.7 L585.33,643.97 L586.72,643.23 L588.12,642.48 L589.51,641.72 L590.91,640.95 L592.3,640.18 L593.7,639.4 L595.1,638.61 L596.49,637.81 L597.88,637.01 L599.28,636.2 L600.67,635.37 L602.07,634.55 L603.46,633.71 L604.86,632.87 L606.25,632.01 L607.65,631.15 L609.04,630.29 L610.44,629.41 L611.84,628.53 L613.23,627.64 L614.62,626.74 L616.02,625.83 L617.41,624.92 L618.81,623.99 L620.2,623.06 L621.6,622.13 L623,621.18 L624.39,620.23 L625.78,619.27 L627.18,618.3 L628.58,617.32 L629.97,616.34 L631.37,615.35 L632.76,614.35 L634.15,613.34 L635.55,612.33 L636.94,611.3 L638.34,610.28 L639.74,609.24 L641.13,608.19 L642.52,607.14 L643.92,606.08 L645.31,605.01 L646.71,603.94 L648.11,602.86 L649.5,601.77 L650.89,600.67 L652.29,599.57 L653.68,598.46 L655.08,597.34 L656.47,596.21 L657.87,595.08 L659.26,593.94 L660.66,592.79 L662.06,591.63 L663.45,590.47 L664.85,589.3 L666.24,588.12 L667.63,586.94 L669.03,585.74 L670.42,584.55 L671.82,583.34 L673.21,582.13 L674.61,580.9 L676,579.68 L677.4,578.44 L677.4,473.25 L676,475.45 L674.61,477.63 L673.21,479.81 L671.82,481.97 L670.42,484.12 L669.03,486.27 L667.63,488.4 L666.24,490.52 L664.85,492.63 L663.45,494.73 L662.06,496.82 L660.66,498.9 L659.26,500.97 L657.87,503.03 L656.47,505.08 L655.08,507.11 L653.68,509.14 L652.29,511.15 L650.89,513.16 L649.5,515.15 L648.11,517.13 L646.71,519.11 L645.31,521.07 L643.92,523.02 L642.52,524.96 L641.13,526.88 L639.74,528.8 L638.34,530.71 L636.94,532.6 L635.55,534.49 L634.15,536.36 L632.76,538.22 L631.37,540.07 L629.97,541.91 L628.58,543.74 L627.18,545.56 L625.78,547.37 L624.39,549.16 L623,550.95 L621.6,552.72 L620.2,554.48 L618.81,556.23 L617.41,557.97 L616.02,559.7 L614.62,561.41 L613.23,563.12 L611.84,564.81 L610.44,566.49 L609.04,568.16 L607.65,569.82 L606.25,571.47 L604.86,573.1 L603.46,574.73 L602.07,576.34 L600.67,577.94 L599.28,579.53 L597.88,581.1 L596.49,582.67 L595.1,584.22 L593.7,585.76 L592.3,587.29 L590.91,588.81 L589.51,590.31 L588.12,591.81 L586.72,593.29 L585.33,594.76 L583.93,596.21 L582.54,597.66 L581.14,599.09 L579.75,600.51 L578.36,601.92 L576.96,603.32 L575.56,604.7 L574.17,606.07 L572.77,607.43 L571.38,608.78 L569.99,610.11 L568.59,611.44 L567.19,612.75 L565.8,614.04 L564.4,615.33 L563.01,616.6 L561.62,617.86 L560.22,619.11 L558.83,620.34 L557.43,621.56 L556.03,622.77 L554.64,623.97 L553.25,625.15 L551.85,626.32 L550.45,627.48 L549.06,628.62 L547.66,629.75 L546.27,630.87 L544.88,631.98 L543.48,633.07 L542.09,634.15 L540.69,635.22 L539.29,636.27 L537.9,637.31 L536.5,638.34 L535.11,639.36 L533.71,640.36 L532.32,641.35 L530.92,642.33 L529.53,643.29 L528.13,644.24 L526.74,645.17 L525.35,646.1 L523.95,647.01 L522.55,647.91 L521.16,648.79 L519.76,649.66 L518.37,650.52 L516.98,651.37 L515.58,652.2 L514.18,653.02 L512.79,653.82 L511.39,654.62 L510,655.4 L508.6,656.17 L507.21,656.92 L505.81,657.66 L504.42,658.39 L503.02,659.11 L501.63,659.81 L500.24,660.5 L498.84,661.18 L497.44,661.84 L496.05,662.5 L494.65,663.14 L493.26,663.77 L491.87,664.38 L490.47,664.98 L489.07,665.58 L487.68,666.15 L486.28,666.72 L484.89,667.28 L483.5,667.82 L482.1,668.35 L480.7,668.87 L479.31,669.38 L477.91,669.87 L476.52,670.36 L475.12,670.83 L473.73,671.29 L472.33,671.74 L470.94,672.18 L469.54,672.61 L468.15,673.03 L466.75,673.43 L465.36,673.83 L463.96,674.21 L462.57,674.59 L461.17,674.96 L459.78,675.31 L458.38,675.66 L456.99,675.99 L455.59,676.32 L454.2,676.63 L452.8,676.94 L451.41,677.24 L450.01,677.52 L448.62,677.8 L447.22,678.07 L445.83,678.34 L444.44,678.59 L443.04,678.83 L441.64,679.07 L440.25,679.3 L438.85,679.52 L437.46,679.73 L436.06,679.94 L434.67,680.14 L433.27,680.33 L431.88,680.51 L430.48,680.69 L429.09,680.86 L427.69,681.02 L426.3,681.18 L424.9,681.33 L423.51,681.47 L422.11,681.61 L420.72,681.74 L419.32,681.87 L417.93,681.99 L416.53,682.1 L415.14,682.21 L413.75,682.32 L412.35,682.42 L410.95,682.52 L409.56,682.61 L408.16,682.69 L406.77,682.77 L405.38,682.85 L403.98,682.93 L402.58,683 L401.19,683.06 L399.79,683.12 L398.4,683.18 Z" fill="#0000ff" stroke="#5e81b5" stroke-width="1.5" stroke-linejoin="round"/>
<path d="M468.15,679.76V673.03" stroke="#5e81b5" stroke-width="1.3"/>
<path d="M398.4,672.23 L399.79,671.76 L401.19,671.28 L402.58,670.79 L403.98,670.29 L405.38,669.78 L406.77,669.27 L408.16,668.74 L409.56,668.2 L410.95,667.66 L412.35,667.1 L413.75,666.54 L415.14,665.96 L416.53,665.38 L417.93,664.79 L419.32,664.19 L420.72,663.57 L422.11,662.95 L423.51,662.32 L424.9,661.68 L426.3,661.04 L427.69,660.38 L429.09,659.71 L430.48,659.03 L431.88,658.35 L433.27,657.65 L434.67,656.95 L436.06,656.23 L437.46,655.51 L438.85,654.78 L440.25,654.04 L441.64,653.29 L443.04,652.52 L444.44,651.75 L445.83,650.98 L447.22,650.19 L448.62,649.39 L450.01,648.58 L451.41,647.77 L452.8,646.94 L454.2,646.1 L455.59,645.26 L456.99,644.41 L458.38,643.54 L459.78,642.67 L461.17,641.79 L462.57,640.9 L463.96,640 L465.36,639.09 L466.75,638.17 L468.15,637.24 L469.54,636.3 L470.94,635.35 L472.33,634.4 L473.73,633.43 L475.12,632.46 L476.52,631.47 L477.91,630.48 L479.31,629.47 L480.7,628.46 L482.1,627.44 L483.5,626.41 L484.89,625.37 L486.28,624.32 L487.68,623.26 L489.07,622.19 L490.47,621.11 L491.87,620.03 L493.26,618.93 L494.65,617.82 L496.05,616.71 L497.44,615.58 L498.84,614.45 L500.24,613.31 L501.63,612.15 L503.02,610.99 L504.42,609.82 L505.81,608.64 L507.21,607.45 L508.6,606.25 L510,605.04 L511.39,603.82 L512.79,602.6 L514.18,601.36 L515.58,600.11 L516.98,598.86 L518.37,597.59 L519.76,596.32 L521.16,595.04 L522.55,593.75 L523.95,592.44 L525.35,591.13 L526.74,589.81 L528.13,588.48 L529.53,587.14 L530.92,585.79 L532.32,584.44 L533.71,583.07 L535.11,581.69 L536.5,580.31 L537.9,578.91 L539.29,577.51 L540.69,576.09 L542.09,574.67 L543.48,573.24 L544.88,571.8 L546.27,570.34 L547.66,568.88 L549.06,567.41 L550.45,565.94 L551.85,564.45 L553.25,562.95 L554.64,561.44 L556.03,559.93 L557.43,558.4 L558.83,556.86 L560.22,555.32 L561.62,553.77 L563.01,552.2 L564.4,550.63 L565.8,549.05 L567.19,547.46 L568.59,545.86 L569.99,544.25 L571.38,542.63 L572.77,541 L574.17,539.36 L575.56,537.71 L576.96,536.06 L578.36,534.39 L579.75,532.72 L581.14,531.03 L582.54,529.34 L583.93,527.64 L585.33,525.92 L586.72,524.2 L588.12,522.47 L589.51,520.73 L590.91,518.98 L592.3,517.22 L593.7,515.45 L595.1,513.67 L596.49,511.89 L597.88,510.09 L599.28,508.28 L600.67,506.47 L602.07,504.65 L603.46,502.81 L604.86,500.97 L606.25,499.12 L607.65,497.25 L609.04,495.38 L610.44,493.5 L611.84,491.61 L613.23,489.71 L614.62,487.81 L616.02,485.89 L617.41,483.96 L618.81,482.02 L620.2,480.08 L621.6,478.12 L623,476.16 L624.39,474.18 L625.78,472.2 L627.18,470.21 L628.58,468.21 L629.97,466.2 L631.37,464.18 L632.76,462.15 L634.15,460.11 L635.55,458.06 L636.94,456 L638.34,453.93 L639.74,451.86 L641.13,449.77 L642.52,447.68 L643.92,445.57 L645.31,443.46 L646.71,441.34 L648.11,439.2 L649.5,437.06 L650.89,434.91 L652.29,432.75 L653.68,430.58 L655.08,428.4 L656.47,426.21 L657.87,424.01 L659.26,421.81 L660.66,419.59 L662.06,417.37 L663.45,415.13 L664.85,412.89 L666.24,410.63 L667.63,408.37 L669.03,406.1 L669.45,405.41 L398.4,405.41 Z" fill="rgba(255,0,0,0.4)" stroke="#5e81b5" stroke-width="1.5" stroke-linejoin="round"/>
<path d="M398.4,581.79 L399.79,581.46 L401.19,581.13 L402.58,580.8 L403.98,580.48 L405.38,580.15 L406.77,579.82 L408.16,579.5 L409.56,579.17 L410.95,578.84 L412.35,578.52 L413.75,578.19 L415.14,577.87 L416.53,577.54 L417.93,577.22 L419.32,576.89 L420.72,576.57 L422.11,576.24 L423.51,575.92 L424.9,575.6 L426.3,575.27 L427.69,574.95 L429.09,574.63 L430.48,574.3 L431.88,573.98 L433.27,573.66 L434.67,573.34 L436.06,573.01 L437.46,572.69 L438.85,572.37 L440.25,572.05 L441.64,571.73 L443.04,571.41 L444.44,571.08 L445.83,570.76 L447.22,570.44 L448.62,570.12 L450.01,569.8 L451.41,569.48 L452.8,569.16 L454.2,568.84 L455.59,568.53 L456.99,568.21 L458.38,567.89 L459.78,567.57 L461.17,567.25 L462.57,566.93 L463.96,566.61 L465.36,566.3 L466.75,565.98 L468.15,565.66 L469.54,565.35 L470.94,565.03 L472.33,564.71 L473.73,564.4 L475.12,564.08 L476.52,563.76 L477.91,563.45 L479.31,563.13 L480.7,562.82 L482.1,562.5 L483.5,562.19 L484.89,561.87 L486.28,561.56 L487.68,561.24 L489.07,560.93 L490.47,560.62 L491.87,560.3 L493.26,559.99 L494.65,559.68 L496.05,559.36 L497.44,559.05 L498.84,558.74 L500.24,558.43 L501.63,558.11 L503.02,557.8 L504.42,557.49 L505.81,557.18 L507.21,556.87 L508.6,556.56 L510,556.25 L511.39,555.94 L512.79,555.63 L514.18,555.32 L515.58,555.01 L516.98,554.7 L518.37,554.39 L519.76,554.08 L521.16,553.77 L522.55,553.46 L523.95,553.15 L525.35,552.84 L526.74,552.53 L528.13,552.23 L529.53,551.92 L530.92,551.61 L532.32,551.3 L533.71,551 L535.11,550.69 L536.5,550.38 L537.9,550.08 L539.29,549.77 L540.69,549.46 L542.09,549.16 L543.48,548.85 L544.88,548.55 L546.27,548.24 L547.66,547.94 L549.06,547.63 L550.45,547.33 L551.85,547.02 L553.25,546.72 L554.64,546.42 L556.03,546.11 L557.43,545.81 L558.83,545.51 L560.22,545.2 L561.62,544.9 L563.01,544.6 L564.4,544.29 L565.8,543.99 L567.19,543.69 L568.59,543.39 L569.99,543.09 L571.38,542.79 L572.77,542.49 L574.17,542.18 L575.56,541.88 L576.96,541.58 L578.36,541.28 L579.75,540.98 L581.14,540.68 L582.54,540.38 L583.93,540.08 L585.33,539.79 L586.72,539.49 L588.12,539.19 L589.51,538.89 L590.91,538.59 L592.3,538.29 L593.7,538 L595.1,537.7 L596.49,537.4 L597.88,537.1 L599.28,536.81 L600.67,536.51 L602.07,536.21 L603.46,535.92 L604.86,535.62 L606.25,535.32 L607.65,535.03 L609.04,534.73 L610.44,534.44 L611.84,534.14 L613.23,533.85 L614.62,533.55 L616.02,533.26 L617.41,532.96 L618.81,532.67 L620.2,532.38 L621.6,532.08 L623,531.79 L624.39,531.5 L625.78,531.2 L627.18,530.91 L628.58,530.62 L629.97,530.33 L631.37,530.03 L632.76,529.74 L634.15,529.45 L635.55,529.16 L636.94,528.87 L638.34,528.58 L639.74,528.29 L641.13,528 L642.52,527.71 L643.92,527.42 L645.31,527.13 L646.71,526.84 L648.11,526.55 L649.5,526.26 L650.89,525.97 L652.29,525.68 L653.68,525.39 L655.08,525.1 L656.47,524.82 L657.87,524.53 L659.26,524.24 L660.66,523.95 L662.06,523.67 L663.45,523.38 L664.85,523.09 L666.24,522.8 L667.63,522.52 L669.03,522.23 L670.42,521.95 L671.82,521.66 L673.21,521.37 L674.61,521.09 L676,520.8 L677.4,520.52 L677.4,405.41 L398.4,405.41 Z" fill="rgba(128,128,128,0.7)" stroke="#5e81b5" stroke-width="1.7" stroke-linejoin="round"/></g>
<rect x="30.5" y="21.5" width="299" height="298.5" fill="none" stroke="#b8b8b8" stroke-width="1"/>
<path d="M36.6,320v-3.7M36.6,21.5v3.7M50.95,320v-2.1M50.95,21.5v2.1M65.29,320v-2.1M65.29,21.5v2.1M79.63,320v-2.1M79.63,21.5v2.1M93.98,320v-2.1M93.98,21.5v2.1M108.32,320v-3.7M108.32,21.5v3.7M122.67,320v-2.1M122.67,21.5v2.1M137.01,320v-2.1M137.01,21.5v2.1M151.36,320v-2.1M151.36,21.5v2.1M165.7,320v-2.1M165.7,21.5v2.1M180.05,320v-3.7M180.05,21.5v3.7M194.39,320v-2.1M194.39,21.5v2.1M208.74,320v-2.1M208.74,21.5v2.1M223.08,320v-2.1M223.08,21.5v2.1M237.43,320v-2.1M237.43,21.5v2.1M251.77,320v-3.7M251.77,21.5v3.7M266.12,320v-2.1M266.12,21.5v2.1M280.46,320v-2.1M280.46,21.5v2.1M294.81,320v-2.1M294.81,21.5v2.1M309.15,320v-2.1M309.15,21.5v2.1M323.5,320v-3.7M323.5,21.5v3.7M30.5,314h3.7M329.5,314h-3.7M30.5,302.54h2.1M329.5,302.54h-2.1M30.5,291.07h2.1M329.5,291.07h-2.1M30.5,279.61h2.1M329.5,279.61h-2.1M30.5,268.14h2.1M329.5,268.14h-2.1M30.5,256.68h3.7M329.5,256.68h-3.7M30.5,245.22h2.1M329.5,245.22h-2.1M30.5,233.75h2.1M329.5,233.75h-2.1M30.5,222.29h2.1M329.5,222.29h-2.1M30.5,210.82h2.1M329.5,210.82h-2.1M30.5,199.36h3.7M329.5,199.36h-3.7M30.5,187.9h2.1M329.5,187.9h-2.1M30.5,176.43h2.1M329.5,176.43h-2.1M30.5,164.97h2.1M329.5,164.97h-2.1M30.5,153.5h2.1M329.5,153.5h-2.1M30.5,142.04h3.7M329.5,142.04h-3.7M30.5,130.58h2.1M329.5,130.58h-2.1M30.5,119.11h2.1M329.5,119.11h-2.1M30.5,107.65h2.1M329.5,107.65h-2.1M30.5,96.18h2.1M329.5,96.18h-2.1M30.5,84.72h3.7M329.5,84.72h-3.7M30.5,73.26h2.1M329.5,73.26h-2.1M30.5,61.79h2.1M329.5,61.79h-2.1M30.5,50.33h2.1M329.5,50.33h-2.1M30.5,38.86h2.1M329.5,38.86h-2.1M30.5,27.4h3.7M329.5,27.4h-3.7" stroke="#8c8c8c" stroke-width="1" fill="none"/>
<g class="tl"><text x="36.6" y="332.5" text-anchor="middle">100</text><text x="108.32" y="332.5" text-anchor="middle">200</text><text x="180.05" y="332.5" text-anchor="middle">300</text><text x="251.77" y="332.5" text-anchor="middle">400</text><text x="323.5" y="332.5" text-anchor="middle">500</text><text x="28.4" y="318.2" text-anchor="end">0</text><text x="28.4" y="260.88" text-anchor="end">1</text><text x="28.4" y="203.56" text-anchor="end">2</text><text x="28.4" y="146.24" text-anchor="end">3</text><text x="28.4" y="88.92" text-anchor="end">4</text><text x="28.4" y="31.6" text-anchor="end">5</text></g>
<text class="ti" x="180.2" y="14" text-anchor="middle">&#923;=1 TeV,<tspan dx="1.5"> c</tspan><tspan class="sg" dx="1.2" dy="2.8">&#947;</tspan><tspan dx="1.5" dy="-2.8">=0.5</tspan></text>
<text class="ax" x="180.05" y="357.9" text-anchor="middle">m<tspan class="sG" dx="-1" dy="3.8">G</tspan><tspan dx="0.8" dy="-3.8">/</tspan><tspan dx="1.2">GeV</tspan></text>
<text class="ax" transform="translate(10,171.4) rotate(-90)" text-anchor="middle">c<tspan class="sm" dx="0" dy="2.6">&#956;</tspan></text>
<rect x="376.7" y="21.5" width="298.8" height="298.5" fill="none" stroke="#b8b8b8" stroke-width="1"/>
<path d="M382.7,320v-3.7M382.7,21.5v3.7M397.04,320v-2.1M397.04,21.5v2.1M411.38,320v-2.1M411.38,21.5v2.1M425.72,320v-2.1M425.72,21.5v2.1M440.06,320v-2.1M440.06,21.5v2.1M454.4,320v-3.7M454.4,21.5v3.7M468.74,320v-2.1M468.74,21.5v2.1M483.08,320v-2.1M483.08,21.5v2.1M497.42,320v-2.1M497.42,21.5v2.1M511.76,320v-2.1M511.76,21.5v2.1M526.1,320v-3.7M526.1,21.5v3.7M540.44,320v-2.1M540.44,21.5v2.1M554.78,320v-2.1M554.78,21.5v2.1M569.12,320v-2.1M569.12,21.5v2.1M583.46,320v-2.1M583.46,21.5v2.1M597.8,320v-3.7M597.8,21.5v3.7M612.14,320v-2.1M612.14,21.5v2.1M626.48,320v-2.1M626.48,21.5v2.1M640.82,320v-2.1M640.82,21.5v2.1M655.16,320v-2.1M655.16,21.5v2.1M669.5,320v-3.7M669.5,21.5v3.7M376.7,314h3.7M675.5,314h-3.7M376.7,302.54h2.1M675.5,302.54h-2.1M376.7,291.07h2.1M675.5,291.07h-2.1M376.7,279.61h2.1M675.5,279.61h-2.1M376.7,268.14h2.1M675.5,268.14h-2.1M376.7,256.68h3.7M675.5,256.68h-3.7M376.7,245.22h2.1M675.5,245.22h-2.1M376.7,233.75h2.1M675.5,233.75h-2.1M376.7,222.29h2.1M675.5,222.29h-2.1M376.7,210.82h2.1M675.5,210.82h-2.1M376.7,199.36h3.7M675.5,199.36h-3.7M376.7,187.9h2.1M675.5,187.9h-2.1M376.7,176.43h2.1M675.5,176.43h-2.1M376.7,164.97h2.1M675.5,164.97h-2.1M376.7,153.5h2.1M675.5,153.5h-2.1M376.7,142.04h3.7M675.5,142.04h-3.7M376.7,130.58h2.1M675.5,130.58h-2.1M376.7,119.11h2.1M675.5,119.11h-2.1M376.7,107.65h2.1M675.5,107.65h-2.1M376.7,96.18h2.1M675.5,96.18h-2.1M376.7,84.72h3.7M675.5,84.72h-3.7M376.7,73.26h2.1M675.5,73.26h-2.1M376.7,61.79h2.1M675.5,61.79h-2.1M376.7,50.33h2.1M675.5,50.33h-2.1M376.7,38.86h2.1M675.5,38.86h-2.1M376.7,27.4h3.7M675.5,27.4h-3.7" stroke="#8c8c8c" stroke-width="1" fill="none"/>
<g class="tl"><text x="382.7" y="332.5" text-anchor="middle">100</text><text x="454.4" y="332.5" text-anchor="middle">200</text><text x="526.1" y="332.5" text-anchor="middle">300</text><text x="597.8" y="332.5" text-anchor="middle">400</text><text x="669.5" y="332.5" text-anchor="middle">500</text><text x="374.6" y="318.2" text-anchor="end">0</text><text x="374.6" y="260.88" text-anchor="end">1</text><text x="374.6" y="203.56" text-anchor="end">2</text><text x="374.6" y="146.24" text-anchor="end">3</text><text x="374.6" y="88.92" text-anchor="end">4</text><text x="374.6" y="31.6" text-anchor="end">5</text></g>
<text class="ti" x="526.25" y="14" text-anchor="middle">&#923;=1 TeV,<tspan dx="1.5"> c</tspan><tspan class="sg" dx="1.2" dy="2.8">&#947;</tspan><tspan dx="1.5" dy="-2.8">=0.3</tspan></text>
<text class="ax" x="526.1" y="357.9" text-anchor="middle">m<tspan class="sG" dx="-1" dy="3.8">G</tspan><tspan dx="0.8" dy="-3.8">/</tspan><tspan dx="1.2">GeV</tspan></text>
<text class="ax" transform="translate(356,171.4) rotate(-90)" text-anchor="middle">c<tspan class="sm" dx="0" dy="2.6">&#956;</tspan></text>
<rect x="38.7" y="391.5" width="298.8" height="298.5" fill="none" stroke="#b8b8b8" stroke-width="1"/>
<path d="M44.8,690v-3.7M44.8,391.5v3.7M59.14,690v-2.1M59.14,391.5v2.1M73.48,690v-2.1M73.48,391.5v2.1M87.82,690v-2.1M87.82,391.5v2.1M102.16,690v-2.1M102.16,391.5v2.1M116.5,690v-3.7M116.5,391.5v3.7M130.84,690v-2.1M130.84,391.5v2.1M145.18,690v-2.1M145.18,391.5v2.1M159.52,690v-2.1M159.52,391.5v2.1M173.86,690v-2.1M173.86,391.5v2.1M188.2,690v-3.7M188.2,391.5v3.7M202.54,690v-2.1M202.54,391.5v2.1M216.88,690v-2.1M216.88,391.5v2.1M231.22,690v-2.1M231.22,391.5v2.1M245.56,690v-2.1M245.56,391.5v2.1M259.9,690v-3.7M259.9,391.5v3.7M274.24,690v-2.1M274.24,391.5v2.1M288.58,690v-2.1M288.58,391.5v2.1M302.92,690v-2.1M302.92,391.5v2.1M317.26,690v-2.1M317.26,391.5v2.1M331.6,690v-3.7M331.6,391.5v3.7M38.7,684.2h3.7M337.5,684.2h-3.7M38.7,672.74h2.1M337.5,672.74h-2.1M38.7,661.27h2.1M337.5,661.27h-2.1M38.7,649.81h2.1M337.5,649.81h-2.1M38.7,638.34h2.1M337.5,638.34h-2.1M38.7,626.88h3.7M337.5,626.88h-3.7M38.7,615.42h2.1M337.5,615.42h-2.1M38.7,603.95h2.1M337.5,603.95h-2.1M38.7,592.49h2.1M337.5,592.49h-2.1M38.7,581.02h2.1M337.5,581.02h-2.1M38.7,569.56h3.7M337.5,569.56h-3.7M38.7,558.1h2.1M337.5,558.1h-2.1M38.7,546.63h2.1M337.5,546.63h-2.1M38.7,535.17h2.1M337.5,535.17h-2.1M38.7,523.7h2.1M337.5,523.7h-2.1M38.7,512.24h3.7M337.5,512.24h-3.7M38.7,500.78h2.1M337.5,500.78h-2.1M38.7,489.31h2.1M337.5,489.31h-2.1M38.7,477.85h2.1M337.5,477.85h-2.1M38.7,466.38h2.1M337.5,466.38h-2.1M38.7,454.92h3.7M337.5,454.92h-3.7M38.7,443.46h2.1M337.5,443.46h-2.1M38.7,431.99h2.1M337.5,431.99h-2.1M38.7,420.53h2.1M337.5,420.53h-2.1M38.7,409.06h2.1M337.5,409.06h-2.1M38.7,397.6h3.7M337.5,397.6h-3.7" stroke="#8c8c8c" stroke-width="1" fill="none"/>
<g class="tl"><text x="44.8" y="702.1" text-anchor="middle">100</text><text x="116.5" y="702.1" text-anchor="middle">200</text><text x="188.2" y="702.1" text-anchor="middle">300</text><text x="259.9" y="702.1" text-anchor="middle">400</text><text x="331.6" y="702.1" text-anchor="middle">500</text><text x="36.6" y="688.4" text-anchor="end">0</text><text x="36.6" y="631.08" text-anchor="end">1</text><text x="36.6" y="573.76" text-anchor="end">2</text><text x="36.6" y="516.44" text-anchor="end">3</text><text x="36.6" y="459.12" text-anchor="end">4</text><text x="36.6" y="401.8" text-anchor="end">5</text></g>
<text class="ti" x="188.95" y="383" text-anchor="middle">&#923;=1 TeV,<tspan dx="1.5"> c</tspan><tspan class="sg" dx="1.2" dy="2.8">&#947;</tspan><tspan dx="1.5" dy="-2.8">=0</tspan></text>
<text class="ax" x="188.2" y="727.9" text-anchor="middle">m<tspan class="sG" dx="-1" dy="3.8">G</tspan><tspan dx="0.8" dy="-3.8">/</tspan><tspan dx="1.2">GeV</tspan></text>
<text class="ax" transform="translate(18.1,541) rotate(-90)" text-anchor="middle">c<tspan class="sm" dx="0" dy="2.6">&#956;</tspan></text>
<rect x="392.5" y="399.3" width="290.8" height="290.5" fill="none" stroke="#b8b8b8" stroke-width="1"/>
<path d="M398.4,689.8v-3.7M398.4,399.3v3.7M412.35,689.8v-2.1M412.35,399.3v2.1M426.3,689.8v-2.1M426.3,399.3v2.1M440.25,689.8v-2.1M440.25,399.3v2.1M454.2,689.8v-2.1M454.2,399.3v2.1M468.15,689.8v-3.7M468.15,399.3v3.7M482.1,689.8v-2.1M482.1,399.3v2.1M496.05,689.8v-2.1M496.05,399.3v2.1M510,689.8v-2.1M510,399.3v2.1M523.95,689.8v-2.1M523.95,399.3v2.1M537.9,689.8v-3.7M537.9,399.3v3.7M551.85,689.8v-2.1M551.85,399.3v2.1M565.8,689.8v-2.1M565.8,399.3v2.1M579.75,689.8v-2.1M579.75,399.3v2.1M593.7,689.8v-2.1M593.7,399.3v2.1M607.65,689.8v-3.7M607.65,399.3v3.7M621.6,689.8v-2.1M621.6,399.3v2.1M635.55,689.8v-2.1M635.55,399.3v2.1M649.5,689.8v-2.1M649.5,399.3v2.1M663.45,689.8v-2.1M663.45,399.3v2.1M677.4,689.8v-3.7M677.4,399.3v3.7M392.5,683.9h3.7M683.3,683.9h-3.7M392.5,674.62h2.1M683.3,674.62h-2.1M392.5,665.33h2.1M683.3,665.33h-2.1M392.5,656.05h2.1M683.3,656.05h-2.1M392.5,646.77h2.1M683.3,646.77h-2.1M392.5,637.49h3.7M683.3,637.49h-3.7M392.5,628.2h2.1M683.3,628.2h-2.1M392.5,618.92h2.1M683.3,618.92h-2.1M392.5,609.64h2.1M683.3,609.64h-2.1M392.5,600.35h2.1M683.3,600.35h-2.1M392.5,591.07h3.7M683.3,591.07h-3.7M392.5,581.79h2.1M683.3,581.79h-2.1M392.5,572.5h2.1M683.3,572.5h-2.1M392.5,563.22h2.1M683.3,563.22h-2.1M392.5,553.94h2.1M683.3,553.94h-2.1M392.5,544.65h3.7M683.3,544.65h-3.7M392.5,535.37h2.1M683.3,535.37h-2.1M392.5,526.09h2.1M683.3,526.09h-2.1M392.5,516.81h2.1M683.3,516.81h-2.1M392.5,507.52h2.1M683.3,507.52h-2.1M392.5,498.24h3.7M683.3,498.24h-3.7M392.5,488.96h2.1M683.3,488.96h-2.1M392.5,479.67h2.1M683.3,479.67h-2.1M392.5,470.39h2.1M683.3,470.39h-2.1M392.5,461.11h2.1M683.3,461.11h-2.1M392.5,451.82h3.7M683.3,451.82h-3.7M392.5,442.54h2.1M683.3,442.54h-2.1M392.5,433.26h2.1M683.3,433.26h-2.1M392.5,423.98h2.1M683.3,423.98h-2.1M392.5,414.69h2.1M683.3,414.69h-2.1M392.5,405.41h3.7M683.3,405.41h-3.7" stroke="#8c8c8c" stroke-width="1" fill="none"/>
<g class="tl"><text x="398.4" y="701.9" text-anchor="middle">100</text><text x="468.15" y="701.9" text-anchor="middle">200</text><text x="537.9" y="701.9" text-anchor="middle">300</text><text x="607.65" y="701.9" text-anchor="middle">400</text><text x="677.4" y="701.9" text-anchor="middle">500</text><text x="390.4" y="688.1" text-anchor="end">0.0</text><text x="390.4" y="641.69" text-anchor="end">0.5</text><text x="390.4" y="595.27" text-anchor="end">1.0</text><text x="390.4" y="548.86" text-anchor="end">1.5</text><text x="390.4" y="502.44" text-anchor="end">2.0</text><text x="390.4" y="456.02" text-anchor="end">2.5</text><text x="390.4" y="409.61" text-anchor="end">3.0</text></g>
<text class="ti" x="537.75" y="390.2" text-anchor="middle">&#923;=1 TeV,<tspan dx="1.5"> c</tspan><tspan class="sg" dx="1.2" dy="2.8">&#947;</tspan><tspan dx="1.5" dy="-2.8">=- 1</tspan></text>
<text class="ax" x="537.9" y="727.9" text-anchor="middle">m<tspan class="sG" dx="-1" dy="3.8">G</tspan><tspan dx="0.8" dy="-3.8">/</tspan><tspan dx="1.2">GeV</tspan></text>
<text class="ax" transform="translate(364,544.4) rotate(-90)" text-anchor="middle">c<tspan class="sm" dx="0" dy="2.6">&#956;</tspan></text>
</svg>
</body></html>
